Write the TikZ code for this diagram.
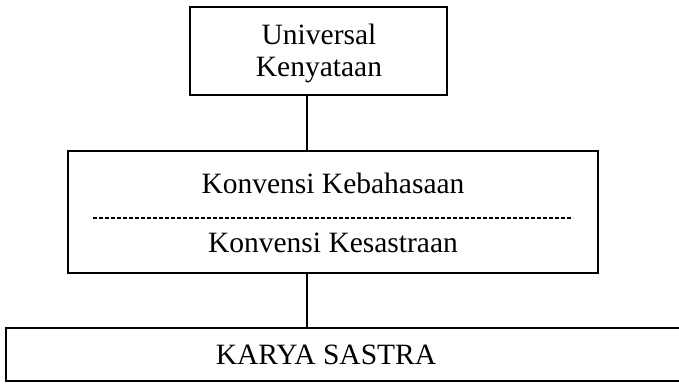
\documentclass[tikz,border=0pt]{standalone}
\usepackage{fontspec}
\setmainfont{Liberation Serif}
\begin{document}
\begin{tikzpicture}[x=1pt,y=-1pt,
  boxstyle/.style={draw=black,line width=2pt,rectangle,inner sep=0pt},
  txt/.style={font=\fontsize{29.5}{32}\selectfont,inner sep=0pt,align=center},
  link/.style={line width=1.6pt}]
\useasboundingbox (0,0) rectangle (679,383);
% top box
\node[boxstyle,minimum width=257pt,minimum height=88pt] (top) at (318.5,51) {};
\node[txt] (toptext) at (319,53) {Universal\\Kenyataan};
% middle box
\node[boxstyle,minimum width=530pt,minimum height=122pt] (mid) at (333,212) {};
\node[txt] (kb) at (333,183) {Konvensi Kebahasaan};
\node[txt] (ks) at (333,243) {Konvensi Kesastraan};
\coordinate (dl) at (93,218);
\coordinate (dr) at (573,218);
\draw[line width=1.2pt,dash pattern=on 4pt off 2pt] (dl) -- (dr);
% bottom box
\node[boxstyle,minimum width=690pt,minimum height=53pt] (bot) at (351,354.5) {};
\node[txt] (karya) at (326,355) {KARYA SASTRA};
% connectors
\coordinate (c) at (307,0);
\draw[link] (top.south -| c) -- (mid.north -| c);
\draw[link] (mid.south -| c) -- (bot.north -| c);
\end{tikzpicture}
\end{document}
